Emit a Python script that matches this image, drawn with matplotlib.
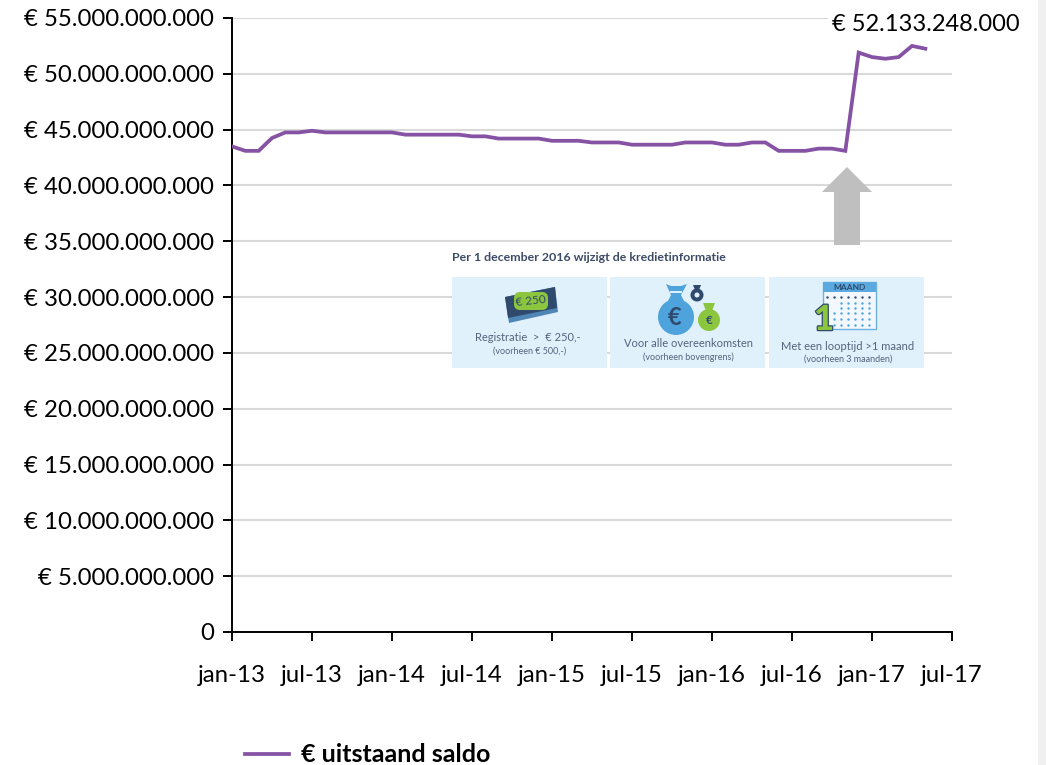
#! /usr/bin/env python3

# uitstaand saldo per maand, jan-13 t/m mei-17

import numpy as np
import matplotlib
matplotlib.use('Agg')
import matplotlib.pyplot as plt
import matplotlib.patheffects as pe
from matplotlib.patches import Rectangle, Polygon, Circle, FancyBboxPatch

plt.rcParams['font.family'] = ['Lato', 'DejaVu Sans']

# data, miljard euro
saldo = [43.5, 43.1, 43.1, 44.25, 44.75, 44.75, 44.9, 44.75, 44.75, 44.75, 44.75, 44.75,
         44.75, 44.55, 44.55, 44.55, 44.55, 44.55, 44.4, 44.4, 44.2, 44.2, 44.2, 44.2,
         44.0, 44.0, 44.0, 43.85, 43.85, 43.85, 43.65, 43.65, 43.65, 43.65, 43.85, 43.85,
         43.85, 43.65, 43.65, 43.85, 43.85, 43.1, 43.1, 43.1, 43.3, 43.3, 43.1,
         51.9, 51.5, 51.35, 51.5, 52.5, 52.25]
xtick_pos = [0, 6, 12, 18, 24, 30, 36, 42, 48, 54]
xtick_labels = ['jan-13', 'jul-13', 'jan-14', 'jul-14', 'jan-15', 'jul-15', 'jan-16', 'jul-16', 'jan-17', 'jul-17']
ytick_pos = [0, 5, 10, 15, 20, 25, 30, 35, 40, 45, 50, 55]
ytick_labels = ['0', '€ 5.000.000.000', '€ 10.000.000.000', '€ 15.000.000.000', '€ 20.000.000.000',
                '€ 25.000.000.000', '€ 30.000.000.000', '€ 35.000.000.000', '€ 40.000.000.000',
                '€ 45.000.000.000', '€ 50.000.000.000', '€ 55.000.000.000']
eind_label = '€ 52.133.248.000'
legend_label = '€ uitstaand saldo'

W, H = 1046, 765
PURPLE = '#8652a4'
NAVY = '#2f4a6d'
TXT = '#54647c'
BLUE = '#4fa3dc'
GREEN = '#8cc63f'
PANEL = '#e1f1fb'

fig = plt.figure(figsize=(W/100, H/100), dpi=100, facecolor='white')
ax = fig.add_axes([232/W, 1-632/H, 720/W, 614/H])

# grafiek
line, = ax.plot(np.arange(len(saldo)), saldo, color=PURPLE, lw=2.7, label=legend_label,
                solid_joinstyle='miter', zorder=3)
ax.set_xlim(0, 54)
ax.set_ylim(0, 55)
ax.set_xticks(xtick_pos, xtick_labels)
ax.set_yticks(ytick_pos, ytick_labels)
ax.tick_params(axis='x', length=6.5, width=1.4, labelsize=17.3, pad=17)
ax.tick_params(axis='y', length=6.5, width=1.4, labelsize=17.3, pad=6.5)
ax.grid(axis='y', color='#d9d9d9', lw=1.5)
ax.set_axisbelow(True)
for s in ['top', 'right']:
    ax.spines[s].set_visible(False)
for s in ['left', 'bottom']:
    ax.spines[s].set_linewidth(1.4)

ax.legend(handles=[line], loc='center left', bbox_to_anchor=(245/W, 1-755/H),
          bbox_transform=fig.transFigure, frameon=False, handlelength=1.76, handletextpad=0.48,
          prop={'size': 18, 'weight': 'bold'}, borderpad=0, borderaxespad=0)

# overlay in pixels voor pijl en infographic
ov = fig.add_axes([0, 0, 1, 1], facecolor='none')
ov.set_xlim(0, W)
ov.set_ylim(H, 0)
ov.axis('off')

ov.add_patch(Rectangle((1038, 0), 8, H, color='#f0f0f0', lw=0))
ov.text(832, 24, eind_label, fontsize=17.0, va='center', ha='left', color='black',
        bbox=dict(facecolor='white', edgecolor='none', pad=3))

# pijl
ov.add_patch(Polygon([(847, 167), (872, 192), (860, 192), (860, 245), (834, 245), (834, 192), (822, 192)],
                     color='#bfbfbf', lw=0))

# infographic
ov.add_patch(Rectangle((447, 247), 481, 29, color='white', lw=0))
ov.text(451.5, 257.5, 'Per 1 december 2016 wijzigt de kredietinformatie', fontsize=8.9, weight='bold',
        color='#3d4b66', va='center', ha='left')
for x0 in [451.5, 610, 769]:
    ov.add_patch(Rectangle((x0, 276.7), 155, 91, color=PANEL, lw=0))

panel_tekst = [(528, 337.5, 'Registratie  >  € 250,-', 530, 351, '(voorheen € 500,-)'),
               (688, 343, 'Voor alle overeenkomsten', 688, 357, '(voorheen bovengrens)'),
               (848, 346.5, 'Met een looptijd >1 maand', 848, 359.5, '(voorheen 3 maanden)')]
for tx, ty, t, sx, sy, s in panel_tekst:
    ov.text(tx, ty, t, fontsize=8.0, color=TXT, ha='center', va='center')
    ov.text(sx, sy, s, fontsize=6.5, color=TXT, ha='center', va='center')

# biljetten
ov.add_patch(Polygon([(505, 297), (555, 287), (558, 312), (509, 323)], color='#4f86b5', lw=0))
ov.add_patch(Polygon([(505, 297), (555, 287), (557, 308), (508, 318)], color=NAVY, lw=0))
ov.add_patch(FancyBboxPatch((516, 294), 30, 14, boxstyle='round,pad=2,rounding_size=6', color=GREEN, lw=0))
ov.text(531, 301, '€ 250', fontsize=8.5, color=NAVY, ha='center', va='center', rotation=6)

# geldzakken
ov.add_patch(Circle((676, 317), 18, color=BLUE, lw=0))
ov.add_patch(Polygon([(666, 284), (671, 286), (681, 286), (687, 284), (681, 295), (684, 301), (668, 301), (671, 295)],
                     color=BLUE, lw=0))
ov.add_patch(Rectangle((670, 291), 12, 1.5, color=PANEL, lw=0))
ov.text(675, 317, '€', fontsize=17, weight='bold', color=NAVY, ha='center', va='center')
ov.add_patch(Circle((709, 320), 11, color=GREEN, lw=0))
ov.add_patch(Polygon([(703, 303), (715, 303), (712, 311), (706, 311)], color=GREEN, lw=0))
ov.text(709, 320.5, '€', fontsize=8.5, weight='bold', color=NAVY, ha='center', va='center')
ov.add_patch(Circle((697, 295), 6.5, color=NAVY, lw=0))
ov.add_patch(Polygon([(693, 285), (701, 285), (699, 290), (695, 290)], color=NAVY, lw=0))
ov.add_patch(Circle((697, 295), 2.5, color=PANEL, lw=0))

# kalender
ov.add_patch(Rectangle((823, 282), 53, 47, facecolor='#f2f8fd', edgecolor='#6fb1e0', lw=1))
ov.add_patch(Rectangle((823, 282), 53, 10, color='#5aaae0', lw=0))
ov.text(849.5, 287.5, 'MAAND', fontsize=6, weight='bold', color=NAVY, ha='center', va='center')
dx = 827 + 7*np.arange(7)
dy = [302.5, 308, 313, 319, 324.5]
ov.scatter(dx, [296.5]*7, s=3, color=NAVY, lw=0)
for yy in dy:
    xs = dx[2:] if yy < 310 else dx[1:]
    ov.scatter(xs, [yy]*len(xs), s=3, color=BLUE, lw=0)
ov.text(824, 320, '1', fontsize=25, weight='black', color=GREEN, ha='center', va='center',
        path_effects=[pe.withStroke(linewidth=1.8, foreground=NAVY)])

fig.savefig('out.png', dpi=100)
